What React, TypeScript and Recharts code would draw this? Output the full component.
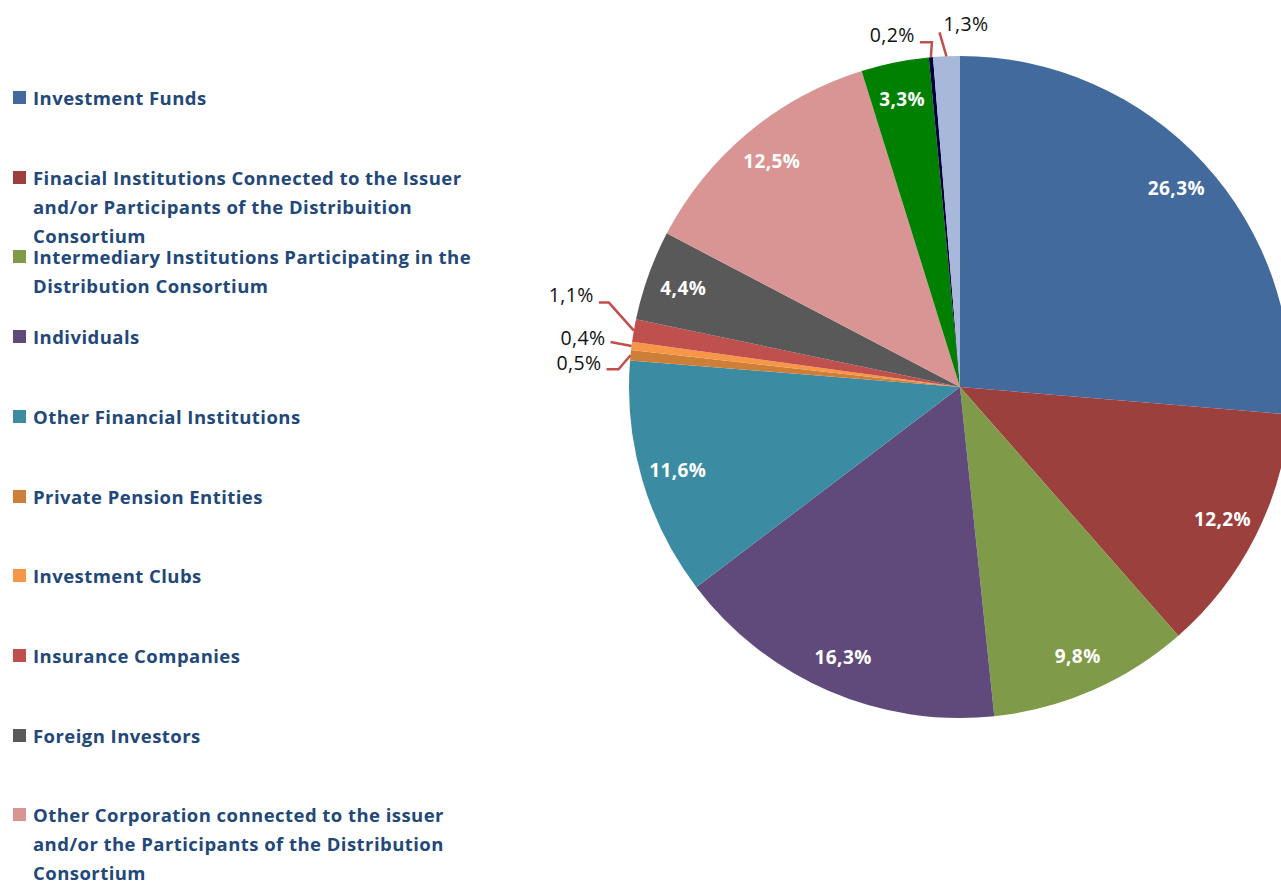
import { Pie, PieChart } from "recharts";

const categories = [
  "Investment Funds",
  "Finacial Institutions Connected to the Issuer and/or Participants of the Distribuition Consortium",
  "Intermediary Institutions Participating in the Distribution Consortium",
  "Individuals",
  "Other Financial Institutions",
  "Private Pension Entities",
  "Investment Clubs",
  "Insurance Companies",
  "Foreign Investors",
  "Other Corporation connected to the issuer and/or the Participants of the Distribution Consortium",
  "Other Legal Entities",
  "Employees",
  "Others",
];

const shares = [26.3, 12.2, 9.8, 16.3, 11.6, 0.5, 0.4, 1.1, 4.4, 12.5, 3.3, 0.2, 1.3];

const colors = [
  "#426a9c",
  "#9c403d",
  "#7f9a48",
  "#5f4a7b",
  "#3b8ca3",
  "#cd7f38",
  "#f79646",
  "#c0504d",
  "#595959",
  "#d99594",
  "#008000",
  "#00003d",
  "#a7b8da",
];

// only the first entries fit in the visible legend area
const visibleLegendCount = 10;

// callout layout for the small slices: bend offset from the arc, horizontal run, text side
const callouts: Record<number, { bx: number; by: number; run: number; side: "left" | "right"; ty: number }> = {
  5: { bx: -12, by: 14, run: -12, side: "left", ty: 1 },
  6: { bx: -21, by: -4, run: 0, side: "left", ty: 3 },
  7: { bx: -25, by: -28, run: -10, side: "left", ty: -1 },
  11: { bx: 1, by: -15, run: -12, side: "left", ty: 0 },
  12: { bx: -7, by: -24, run: 0, side: "right", ty: -1 },
};

const data = categories.map((name, i) => ({ name, value: shares[i], fill: colors[i] }));

const RAD = Math.PI / 180;
const FONT = "'Open Sans', sans-serif";

function fmt(v: number) {
  return v.toFixed(1).replace(".", ",") + "%";
}

function renderLabel(props: any) {
  const { cx, cy, midAngle, outerRadius, index, value } = props;
  const cos = Math.cos(-midAngle * RAD);
  const sin = Math.sin(-midAngle * RAD);
  const c = callouts[index];
  if (!c) {
    const r = 294;
    return (
      <text
        x={cx + r * cos}
        y={cy + r * sin}
        fill="#fff"
        fontFamily={FONT}
        fontWeight={700}
        fontSize={19}
        letterSpacing={0.4}
        textAnchor="middle"
        dominantBaseline="central"
      >
        {fmt(value)}
      </text>
    );
  }
  const ax = cx + outerRadius * cos;
  const ay = cy + outerRadius * sin;
  const bx = ax + c.bx;
  const by = ay + c.by;
  const ex = bx + c.run;
  const ey = by;
  const tx = c.side === "left" ? ex - 5 : ex + 4;
  return (
    <g>
      <polyline
        points={`${ax},${ay} ${bx},${by} ${ex},${ey}`}
        fill="none"
        stroke="#c0504d"
        strokeWidth={2.5}
      />
      <text
        x={tx}
        y={ey + c.ty}
        fill="#111"
        fontFamily={FONT}
        fontSize={19.5}
        letterSpacing={0.4}
        textAnchor={c.side === "left" ? "end" : "start"}
      >
        {fmt(value)}
      </text>
    </g>
  );
}

function LegendBox() {
  return (
    <div style={{ position: "absolute", left: 0, top: 0, width: 480, height: 883 }}>
      {data.slice(0, visibleLegendCount).map((d, i) => (
        <div
          key={d.name}
          style={{
            position: "absolute",
            left: 13,
            top: 83 + i * 79.7,
            width: 465,
            display: "flex",
            alignItems: "flex-start",
            fontFamily: FONT,
            fontWeight: 700,
            fontSize: 18.5,
            letterSpacing: 0.45,
            lineHeight: "29px",
            color: "#22487a",
          }}
        >
          <span
            style={{
              display: "inline-block",
              width: 13,
              height: 13,
              background: d.fill,
              marginTop: 8,
              marginRight: 7,
              flexShrink: 0,
            }}
          />
          <span>{d.name}</span>
        </div>
      ))}
    </div>
  );
}

export default function App() {
  return (
    <div
      style={{
        position: "absolute",
        left: 0,
        top: 0,
        width: 1281,
        height: 883,
        overflow: "hidden",
        background: "#fff",
      }}
    >
      <PieChart width={1281} height={883} margin={{ top: 0, right: 0, bottom: 0, left: 0 }}>
        <Pie
          data={data}
          dataKey="value"
          nameKey="name"
          cx={960}
          cy={387}
          outerRadius={331}
          startAngle={90}
          endAngle={-270}
          stroke="none"
          labelLine={false}
          label={renderLabel}
          isAnimationActive={false}
        />
      </PieChart>
      <LegendBox />
    </div>
  );
}
